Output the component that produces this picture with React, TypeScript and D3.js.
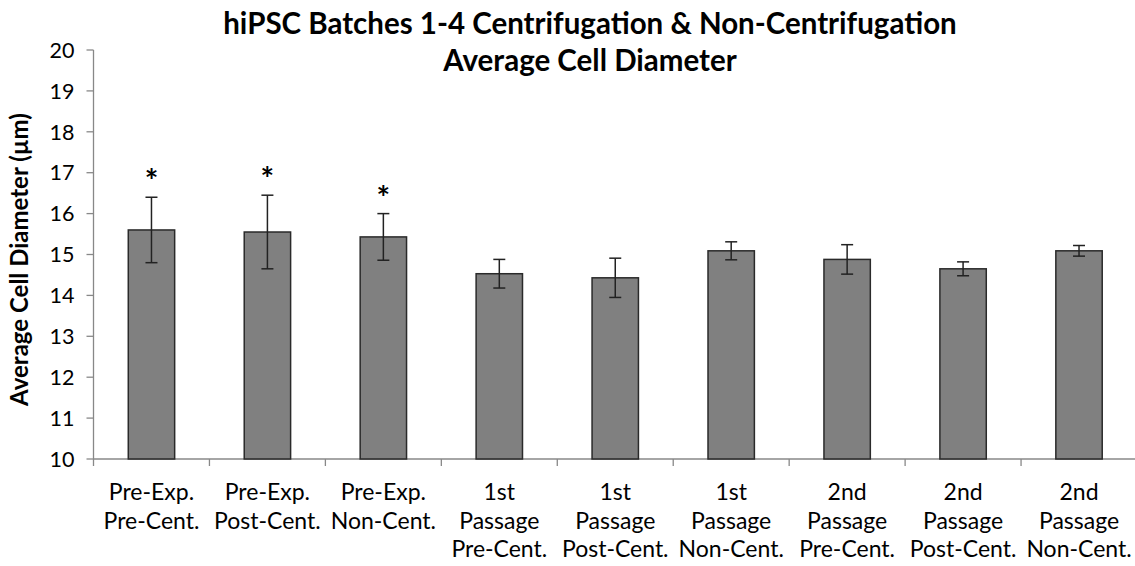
import React from "react";
import * as d3 from "d3";

const categories: string[][] = [
  ["Pre-Exp.", "Pre-Cent."],
  ["Pre-Exp.", "Post-Cent."],
  ["Pre-Exp.", "Non-Cent."],
  ["1st", "Passage", "Pre-Cent."],
  ["1st", "Passage", "Post-Cent."],
  ["1st", "Passage", "Non-Cent."],
  ["2nd", "Passage", "Pre-Cent."],
  ["2nd", "Passage", "Post-Cent."],
  ["2nd", "Passage", "Non-Cent."],
];
const means = [15.6, 15.55, 15.43, 14.53, 14.43, 15.09, 14.88, 14.65, 15.09];
const errors = [0.8, 0.9, 0.57, 0.35, 0.48, 0.22, 0.36, 0.17, 0.13];
const significant = [true, true, true, false, false, false, false, false, false];
const yTicks = [10, 11, 12, 13, 14, 15, 16, 17, 18, 19, 20];
const titleLines = ["hiPSC Batches 1-4 Centrifugation & Non-Centrifugation", "Average Cell Diameter"];
const yLabel = "Average Cell Diameter (µm)";

const W = 1135, H = 566;
const FONT = "Lato, 'Open Sans', sans-serif";

export default function App() {
  const x0 = 93.5, x1 = 1137;
  const yTop = 50, yBot = 459;
  const idx = categories.map((_, i) => String(i));
  const x = d3.scaleBand<string>().domain(idx).range([x0, x1]).paddingInner(0.6).paddingOuter(0.3);
  const y = d3.scaleLinear().domain([10, 20]).range([yBot, yTop]);
  const step = x.step();
  const bw = x.bandwidth();
  const capW = 12;

  return (
    <svg width={W} height={H} style={{ position: "absolute", left: 0, top: 0, background: "#fff" }} fontFamily={FONT}>
      {titleLines.map((t, i) => (
        <text key={i} x={590} y={34 + i * 37} textAnchor="middle" fontSize={29.5} fontWeight="bold" fill="#000">{t}</text>
      ))}
      <text transform={`translate(28,${(yTop + yBot) / 2 + 5}) rotate(-90)`} textAnchor="middle" fontSize={24} fontWeight="bold" fill="#000">{yLabel}</text>
      {/* y axis */}
      <line x1={x0} x2={x0} y1={yTop} y2={yBot} stroke="#888" strokeWidth={1.3} />
      {yTicks.map((t) => (
        <g key={t}>
          <line x1={x0 - 7} x2={x0} y1={y(t)} y2={y(t)} stroke="#888" strokeWidth={1.3} />
          <text x={x0 - 19} y={y(t)} dy="0.36em" textAnchor="end" fontSize={21.5} fill="#000">{t}</text>
        </g>
      ))}
      {/* x axis */}
      <line x1={x0} x2={x1} y1={yBot} y2={yBot} stroke="#888" strokeWidth={1.3} />
      {idx.map((d, i) => (
        <line key={"t" + i} x1={x0 + i * step} x2={x0 + i * step} y1={yBot} y2={yBot + 7} stroke="#888" strokeWidth={1.3} />
      ))}
      <line x1={x0 + 9 * step} x2={x0 + 9 * step} y1={yBot} y2={yBot + 7} stroke="#888" strokeWidth={1.3} />
      {/* bars */}
      {means.map((m, i) => {
        const bx = x(String(i))!;
        const cx = bx + bw / 2;
        const eTop = y(m + errors[i]);
        const eBot = y(m - errors[i]);
        return (
          <g key={"b" + i}>
            <rect x={bx} y={y(m)} width={bw} height={yBot - y(m)} fill="#808080" stroke="#2a2a2a" strokeWidth={1.5} />
            <line x1={cx} x2={cx} y1={eTop} y2={eBot} stroke="#222" strokeWidth={1.5} />
            <line x1={cx - capW / 2} x2={cx + capW / 2} y1={eTop} y2={eTop} stroke="#222" strokeWidth={1.5} />
            <line x1={cx - capW / 2} x2={cx + capW / 2} y1={eBot} y2={eBot} stroke="#222" strokeWidth={1.5} />
            {significant[i] && (
              <text x={cx} y={eTop - 4} textAnchor="middle" fontSize={32} fontWeight="bold" fill="#000">*</text>
            )}
          </g>
        );
      })}
      {/* category labels */}
      {categories.map((lines, i) => {
        const cx = x(String(i))! + bw / 2;
        return (
          <text key={"c" + i} textAnchor="middle" fontSize={23} fill="#000">
            {lines.map((l, j) => (
              <tspan key={j} x={cx} y={500 + j * 28.5}>{l}</tspan>
            ))}
          </text>
        );
      })}
    </svg>
  );
}
